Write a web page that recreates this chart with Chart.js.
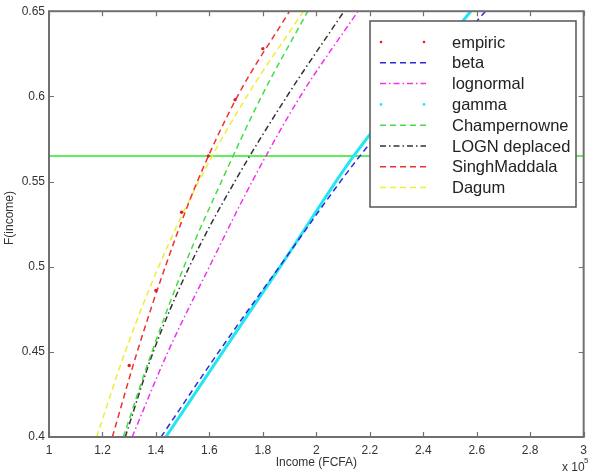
<!DOCTYPE html>
<html>
<head>
<meta charset="utf-8">
<script src="https://cdn.jsdelivr.net/npm/chart.js@4/dist/chart.umd.min.js"></script>
<style>
  html, body { margin: 0; padding: 0; background: #fff; }
  canvas { display: block; }
</style>
</head>
<body>
<canvas id="cdf" width="593" height="474"></canvas>
<script>
// values (income in 1e5 FCFA, F = cumulative share)
const x_ticks = [1, 1.2, 1.4, 1.6, 1.8, 2, 2.2, 2.4, 2.6, 2.8, 3];
const y_ticks = [0.4, 0.45, 0.5, 0.55, 0.6, 0.65];

const empiric_x = [1.30, 1.40, 1.496, 1.596, 1.696, 1.80];
const empiric_f = [0.442, 0.486, 0.532, 0.565, 0.598, 0.628];

const beta_x = [1.419, 1.635, 1.862, 2.163, 2.633];
const beta_f = [0.40, 0.45, 0.50, 0.565, 0.65];

const gamma_x = [1.437, 1.65, 1.865, 2.14, 2.578];
const gamma_f = [0.40, 0.45, 0.50, 0.565, 0.65];

// the fitted curves read at F = 0.40, 0.45, ... 0.65
const f_levels = [0.40, 0.45, 0.50, 0.55, 0.60, 0.65];
const lognormal_x = [1.311, 1.445, 1.60, 1.76, 1.94, 2.156];
const champ_x = [1.278, 1.385, 1.505, 1.645, 1.795, 1.968];
const logn_dep_x = [1.285, 1.39, 1.525, 1.695, 1.89, 2.104];
const singh_x = [1.237, 1.33, 1.435, 1.555, 1.705, 1.90];
const dagum_x = [1.178, 1.285, 1.41, 1.56, 1.74, 1.952];

const level_x = [1, 3];
const level_f = [0.565, 0.565];

function pts(xs, fs) {
  return xs.map((x, i) => ({x: x, y: fs[i]}));
}

function curve(label, xs, fs, color, dash, width) {
  return {
    label: label,
    data: pts(xs, fs),
    borderColor: color,
    backgroundColor: color,
    borderWidth: width || 1.5,
    borderDash: dash,
    pointRadius: 0,
    cubicInterpolationMode: 'monotone',
    fill: false
  };
}

const DASH = [6, 4];
const DASHDOT = [6, 3, 1.5, 3];

const datasets = [
  {
    label: 'empiric',
    data: pts(empiric_x, empiric_f),
    showLine: false,
    pointRadius: 1.7,
    pointBackgroundColor: '#e02020',
    pointBorderWidth: 0,
    borderColor: '#e02020',
    legendDots: true
  },
  curve('beta', beta_x, beta_f, '#2a2ae0', DASH),
  curve('lognormal', lognormal_x, f_levels, '#ee33ee', DASHDOT),
  Object.assign(curve('gamma', gamma_x, gamma_f, '#22e6f0', [], 3), {legendDots: true}),
  curve('Champernowne', champ_x, f_levels, '#44dd44', DASH),
  curve('LOGN deplaced', logn_dep_x, f_levels, '#333333', DASHDOT),
  curve('SinghMaddala', singh_x, f_levels, '#f03030', DASH),
  curve('Dagum', dagum_x, f_levels, '#eeee30', DASH),
  Object.assign(curve('', level_x, level_f, '#5eee5e', [], 2), {noLegend: true})
];

const FONT = '"Liberation Sans", Arial, sans-serif';

const framePlugin = {
  id: 'frame',
  afterDatasetsDraw(chart) {
    const ctx = chart.ctx;
    const a = chart.chartArea;
    const xs = chart.scales.x, ys = chart.scales.y;
    ctx.save();

    // legend box
    const lx = 370, ly = 21, lw = 206, lh = 186;
    ctx.fillStyle = '#fff';
    ctx.fillRect(lx, ly, lw, lh);
    ctx.strokeStyle = '#555';
    ctx.lineWidth = 1.5;
    ctx.strokeRect(lx, ly, lw, lh);
    ctx.font = '16.5px ' + FONT;
    ctx.textBaseline = 'middle';
    ctx.textAlign = 'left';
    let row = 0;
    chart.data.datasets.forEach(ds => {
      if (ds.noLegend) return;
      const yy = 42 + row * 20.8;
      ctx.strokeStyle = ds.borderColor;
      ctx.fillStyle = ds.borderColor;
      if (ds.legendDots) {
        [381, 424].forEach(px => {
          ctx.beginPath();
          ctx.arc(px, yy, 1.3, 0, Math.PI * 2);
          ctx.fill();
        });
      } else {
        ctx.lineWidth = 1.5;
        ctx.setLineDash(ds.borderDash || []);
        ctx.beginPath();
        ctx.moveTo(380, yy);
        ctx.lineTo(426, yy);
        ctx.stroke();
        ctx.setLineDash([]);
      }
      ctx.fillStyle = '#222';
      ctx.fillText(ds.label, 452, yy + 1);
      row++;
    });

    // axes box and inward ticks
    ctx.strokeStyle = '#707070';
    ctx.lineWidth = 2;
    ctx.strokeRect(a.left, a.top, a.right - a.left, a.bottom - a.top);
    ctx.lineWidth = 1.2;
    ctx.beginPath();
    x_ticks.forEach(v => {
      const px = Math.round(xs.getPixelForValue(v)) + 0.5;
      ctx.moveTo(px, a.bottom); ctx.lineTo(px, a.bottom - 5);
      ctx.moveTo(px, a.top); ctx.lineTo(px, a.top + 5);
    });
    y_ticks.forEach(v => {
      const py = Math.round(ys.getPixelForValue(v)) + 0.5;
      ctx.moveTo(a.left, py); ctx.lineTo(a.left + 5, py);
      ctx.moveTo(a.right, py); ctx.lineTo(a.right - 5, py);
    });
    ctx.stroke();

    // axis titles
    ctx.fillStyle = '#333';
    ctx.font = '12px ' + FONT;
    ctx.textAlign = 'center';
    ctx.textBaseline = 'middle';
    ctx.fillText('Income (FCFA)', (a.left + a.right) / 2, 463);
    ctx.save();
    ctx.translate(10, 218);
    ctx.rotate(-Math.PI / 2);
    ctx.fillText('F(income)', 0, 0);
    ctx.restore();
    ctx.textAlign = 'left';
    ctx.fillText('x 10', 562, 468);
    ctx.font = '8px ' + FONT;
    ctx.fillText('5', 584, 461);
    ctx.restore();
  }
};

new Chart(document.querySelector('#cdf'), {
  type: 'line',
  data: { datasets: datasets },
  options: {
    responsive: false,
    animation: false,
    events: [],
    layout: { padding: { top: 10, right: 4, left: 0, bottom: 0 } },
    plugins: { legend: { display: false }, tooltip: { enabled: false } },
    scales: {
      x: {
        type: 'linear',
        min: 1,
        max: 3,
        afterBuildTicks: s => { s.ticks = x_ticks.map(v => ({value: v})); },
        afterFit: s => { s.height = 37; },
        grid: { display: false, drawTicks: false },
        border: { display: false },
        ticks: {
          padding: 6,
          color: '#333',
          font: { family: FONT, size: 12 },
          maxRotation: 0,
          autoSkip: false,
          callback: v => String(Number(v.toFixed(1)))
        }
      },
      y: {
        type: 'linear',
        min: 0.4,
        max: 0.65,
        afterBuildTicks: s => { s.ticks = y_ticks.map(v => ({value: v})); },
        afterFit: s => { s.width = 49; },
        grid: { display: false, drawTicks: false },
        border: { display: false },
        ticks: {
          padding: 4,
          color: '#333',
          font: { family: FONT, size: 12 },
          autoSkip: false,
          callback: v => String(Number(v.toFixed(2)))
        }
      }
    }
  },
  plugins: [framePlugin]
});
</script>
</body>
</html>
